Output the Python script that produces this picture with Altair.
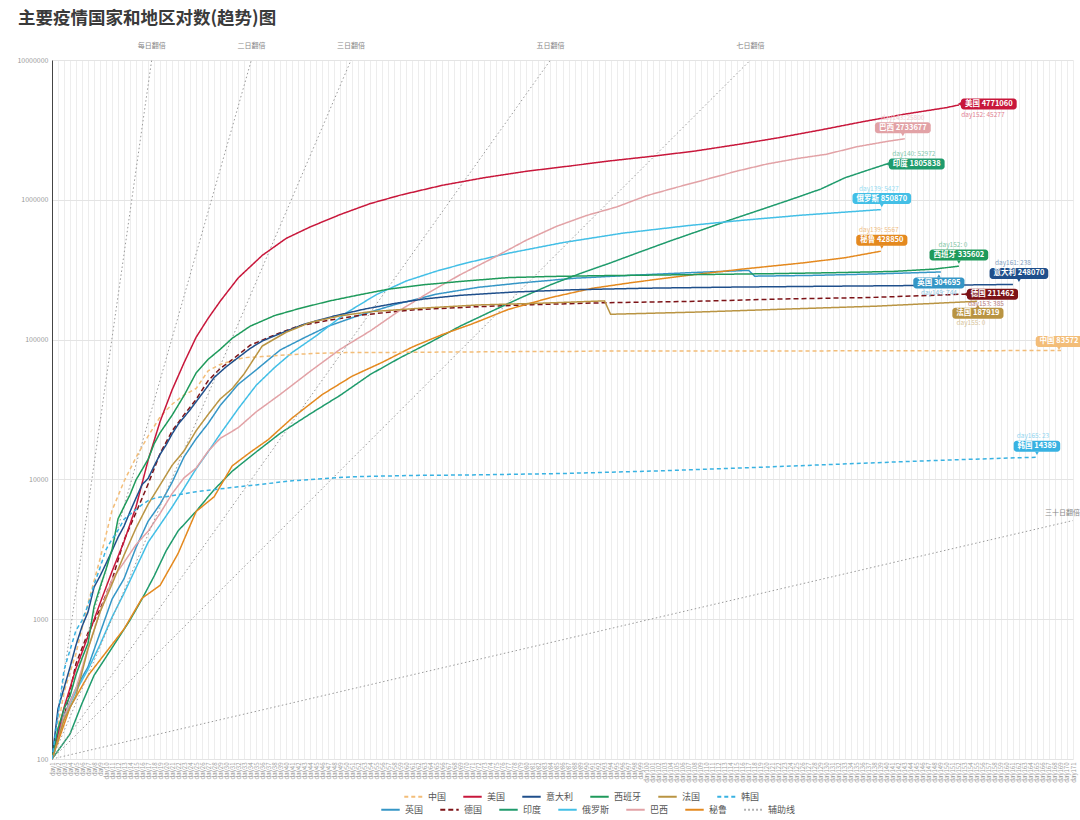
import altair as alt
import pandas as pd

FONT = "Noto Sans CJK SC"
TITLE = "主要疫情国家和地区对数(趋势)图"

# ---------------- series: day (since 100th case) and cumulative cases ----------------
cn_day = [1, 3, 5, 7, 9, 11, 13, 15, 17, 19, 21, 23, 25, 27, 29, 31, 33, 36, 40, 45, 50, 60, 70, 80, 88, 90, 100, 120, 140, 160, 169]
cn_val = [100, 300, 571, 1300, 2700, 6000, 9700, 14400, 20400, 28000, 34500, 40200, 44700, 59800, 66500, 70500, 74200, 75600, 77700, 79800, 80700, 81100, 81600, 82100, 82300, 82700, 82900, 83000, 83100, 83400, 83572]

us_day = [1, 3, 5, 7, 9, 11, 13, 15, 17, 19, 21, 23, 25, 27, 29, 32, 36, 40, 44, 49, 54, 59, 66, 73, 80, 87, 94, 101, 108, 115, 122, 129, 136, 143, 150, 152]
us_val = [100, 233, 445, 755, 1300, 2200, 3600, 6400, 13700, 26000, 43700, 68500, 104000, 142000, 188000, 276000, 400000, 530000, 640000, 785000, 940000, 1080000, 1270000, 1440000, 1600000, 1740000, 1900000, 2050000, 2230000, 2480000, 2780000, 3160000, 3620000, 4100000, 4570000, 4771060]

it_day = [1, 2, 3, 4, 5, 6, 7, 8, 9, 10, 11, 12, 13, 14, 15, 16, 17, 18, 19, 20, 21, 22, 24, 26, 28, 30, 32, 34, 36, 39, 43, 48, 53, 58, 63, 69, 78, 88, 100, 114, 130, 144, 161]
it_val = [100, 229, 322, 453, 655, 888, 1128, 1694, 2036, 2502, 3089, 3858, 4636, 5883, 7375, 9172, 10149, 12462, 15113, 17660, 21157, 24747, 31506, 41035, 53578, 63927, 74386, 86498, 97689, 110574, 128948, 147577, 165155, 181228, 195351, 207428, 219070, 227364, 233197, 237290, 240760, 243506, 248070]

es_day = [1, 2, 3, 4, 5, 6, 7, 8, 9, 10, 11, 12, 13, 14, 15, 16, 17, 18, 19, 21, 23, 25, 27, 29, 31, 34, 38, 42, 47, 52, 57, 63, 70, 77, 84, 92, 101, 111, 121, 131, 141, 148, 152]
es_val = [100, 165, 228, 282, 401, 525, 674, 1231, 1695, 2277, 3146, 5232, 6391, 7798, 9942, 11748, 13910, 17963, 21571, 28768, 39885, 57786, 72248, 85195, 102136, 124736, 148220, 166019, 188068, 208389, 229422, 247122, 262783, 277719, 282852, 286509, 289360, 292655, 296351, 300988, 307335, 319501, 335602]

fr_day = [1, 3, 5, 7, 9, 11, 13, 15, 17, 19, 21, 23, 25, 27, 29, 31, 33, 36, 40, 44, 49, 54, 62, 72, 82, 93, 94, 108, 124, 138, 155]
fr_val = [100, 191, 285, 613, 1126, 1784, 2876, 4499, 6633, 9134, 12612, 16018, 22302, 29155, 37575, 44550, 56989, 89953, 112950, 132591, 147969, 158303, 167346, 176970, 181826, 189220, 151753, 157220, 165719, 173304, 187919]

kr_day = [1, 2, 3, 4, 5, 6, 7, 8, 9, 10, 11, 12, 13, 14, 15, 16, 17, 18, 19, 20, 25, 30, 35, 41, 51, 61, 71, 86, 102, 117, 132, 147, 163, 165]
kr_val = [100, 204, 433, 602, 833, 977, 1261, 1766, 2337, 3150, 3736, 4335, 5186, 5621, 6088, 6593, 7041, 7314, 7478, 7513, 8162, 8652, 9137, 9786, 10450, 10674, 10765, 11018, 11503, 12121, 12850, 13612, 14336, 14389]

uk_day = [1, 3, 5, 7, 9, 11, 13, 15, 17, 19, 21, 23, 25, 27, 29, 32, 35, 39, 43, 47, 52, 58, 65, 72, 79, 88, 98, 108, 117, 118, 128, 138, 149]
uk_val = [100, 206, 321, 456, 798, 1391, 1950, 3269, 5018, 6650, 9529, 14543, 19522, 25150, 33718, 47806, 60733, 84279, 103093, 124743, 148377, 177454, 211364, 236711, 254195, 274762, 289140, 302138, 312654, 284276, 288133, 294792, 304695]

de_day = [1, 3, 5, 7, 9, 11, 13, 15, 17, 19, 21, 23, 25, 27, 29, 31, 34, 38, 42, 47, 53, 61, 71, 81, 93, 107, 123, 137, 153]
de_val = [100, 196, 482, 799, 1176, 1908, 3675, 5813, 9257, 15320, 22213, 29056, 37323, 50871, 62095, 71808, 91159, 107663, 124908, 137439, 150648, 163009, 171324, 177778, 183494, 187423, 195418, 199919, 211462]

in_day = [1, 4, 6, 8, 10, 12, 14, 16, 18, 20, 22, 25, 28, 31, 35, 39, 44, 49, 54, 59, 64, 69, 74, 79, 84, 89, 94, 99, 104, 109, 114, 119, 124, 129, 133, 137, 140]
in_val = [100, 151, 250, 396, 536, 727, 987, 1397, 2032, 3082, 4281, 5916, 8446, 11438, 15712, 21370, 29451, 39980, 56342, 74292, 95698, 125101, 158086, 198706, 246628, 297535, 354065, 425282, 508953, 604641, 719665, 849553, 1003832, 1192915, 1435453, 1638870, 1805838]

ru_day = [1, 3, 5, 7, 9, 11, 13, 15, 17, 19, 21, 23, 25, 27, 29, 32, 35, 38, 41, 45, 50, 55, 60, 65, 70, 77, 86, 96, 107, 116, 126, 139]
ru_val = [100, 199, 306, 438, 658, 1036, 1534, 2337, 3548, 4731, 6343, 8672, 11917, 15770, 21102, 32008, 47121, 62773, 80949, 106498, 155370, 209688, 262843, 308705, 353427, 414878, 493657, 576952, 654405, 713936, 777486, 850870]

br_day = [1, 3, 5, 7, 9, 11, 13, 15, 17, 19, 21, 23, 25, 27, 29, 32, 35, 39, 44, 49, 54, 59, 64, 69, 74, 80, 85, 90, 95, 100, 105, 110, 115, 120, 125, 130, 135, 140, 143]
br_val = [100, 200, 321, 621, 1128, 1924, 2554, 3417, 4256, 5717, 7910, 10278, 12056, 15927, 19638, 23430, 30425, 40581, 59324, 85380, 115455, 162699, 220291, 291579, 374898, 514849, 645771, 772416, 888271, 1070139, 1228114, 1402041, 1603055, 1800827, 1970909, 2118646, 2396434, 2613789, 2733677]

pe_day = [1, 4, 7, 10, 13, 16, 19, 22, 25, 28, 31, 34, 37, 41, 46, 51, 56, 61, 66, 71, 77, 84, 91, 98, 107, 116, 126, 133, 139]
pe_val = [100, 234, 395, 580, 852, 1414, 1746, 2954, 5897, 7519, 12491, 15628, 19250, 27517, 40459, 54817, 68822, 88541, 108769, 129751, 164476, 199696, 232992, 257447, 288477, 319646, 353590, 384797, 428850]

SERIES = {
    "中国": (cn_day, cn_val), "美国": (us_day, us_val), "意大利": (it_day, it_val),
    "西班牙": (es_day, es_val), "法国": (fr_day, fr_val), "韩国": (kr_day, kr_val),
    "英国": (uk_day, uk_val), "德国": (de_day, de_val), "印度": (in_day, in_val),
    "俄罗斯": (ru_day, ru_val), "巴西": (br_day, br_val), "秘鲁": (pe_day, pe_val),
}

ROW1 = ["中国", "美国", "意大利", "西班牙", "法国", "韩国"]
ROW2 = ["英国", "德国", "印度", "俄罗斯", "巴西", "秘鲁", "辅助线"]

# captions shown next to the end labels
CAPTION = {
    "美国": "day152: 45277", "巴西": "day143: 25800", "印度": "day140: 52972",
    "俄罗斯": "day139: 5427", "秘鲁": "day139: 5567", "西班牙": "day152: 0",
    "意大利": "day161: 238", "英国": "day149: 744", "德国": "day153: 385",
    "法国": "day155: 0", "韩国": "day165: 23", "中国": "",
}

# auxiliary doubling lines (start / end points)
aux_names = ["每日翻倍", "二日翻倍", "三日翻倍", "五日翻倍", "七日翻倍", "三十日翻倍"]
aux_start_day = [1, 1, 1, 1, 1, 1]
aux_start_val = [100, 100, 100, 100, 100, 100]
aux_end_day = [17.6, 34.2, 50.8, 84.0, 117.3, 171]
aux_end_val = [10000000, 10000000, 10000000, 10000000, 10000000, 5080]

X_TICKS = list(range(1, 172))
Y_TICKS = [100, 1000, 10000, 100000, 1000000, 10000000]

# ---------------- styles ----------------
COLOR = {
    "中国": "#f3bd78", "美国": "#c8173b", "意大利": "#1f4f8b", "西班牙": "#1e9a5b",
    "法国": "#b99442", "韩国": "#38b2e2", "英国": "#3596c6", "德国": "#7d1317",
    "印度": "#1f9b6c", "俄罗斯": "#43bfe6", "巴西": "#e2a2a6", "秘鲁": "#e4891f",
    "辅助线": "#9a9a9a",
}
SOLID = [1, 0]
DASH = {c: SOLID for c in COLOR}
DASH.update({"中国": [4, 3], "韩国": [4, 3], "德国": [5, 3], "辅助线": [1.5, 2.5]})

# label placement: box dx/dy (box centre from line end), pointer side, caption dx/dy
LBL = {
    "美国": (27, -1, "left", 24, 10),
    "巴西": (-2, -11, "down", -2, -21),
    "印度": (29, 0, "left", 27, -10),
    "俄罗斯": (1, -11, "down", -2, -21),
    "秘鲁": (1, -11, "down", -2, -21),
    "西班牙": (0, -11, "down", -6, -21),
    "意大利": (6, -11, "down", 0, -21),
    "英国": (-2, 11, "up", -2, 21),
    "德国": (25, 0, "left", 21, 10),
    "法国": (1, 12, "up", -6, 22),
    "中国": (-2, -9, "down", 0, -18),
    "韩国": (0, -11, "down", -4, -21),
}
LBL_FS = 7.5


def tint(h, f):
    r, g, b = int(h[1:3], 16), int(h[3:5], 16), int(h[5:7], 16)
    r, g, b = [int(round(c + (255 - c) * f)) for c in (r, g, b)]
    return "#%02x%02x%02x" % (r, g, b)


def box_width(name, num):
    return len(name) * LBL_FS + len(str(num)) * LBL_FS * 0.62 + LBL_FS * 0.3 + 6


# ---------------- data tables ----------------
rows_a, rows_b = [], []
for name in ROW1:
    d, v = SERIES[name]
    for a, b in zip(d, v):
        rows_a.append({"country": name, "series": name, "day": a, "cases": b, "sw": 1.5})
for name in ROW2[:-1]:
    d, v = SERIES[name]
    for a, b in zip(d, v):
        rows_b.append({"country": name, "series": name, "day": a, "cases": b, "sw": 1.5})
for n, sd, sv, ed, ev in zip(aux_names, aux_start_day, aux_start_val, aux_end_day, aux_end_val):
    rows_b.append({"country": "辅助线", "series": n, "day": sd, "cases": sv, "sw": 1})
    rows_b.append({"country": "辅助线", "series": n, "day": ed, "cases": ev, "sw": 1})
dfA = pd.DataFrame(rows_a)
dfB = pd.DataFrame(rows_b)

xscale = alt.Scale(domain=[1, 171], nice=False, zero=False)
yscale = alt.Scale(type="log", domain=[100, 10000000], nice=False)
xaxis = alt.Axis(values=X_TICKS, labelExpr="'day' + datum.value", labelAngle=-90,
                 labelFontSize=6, labelColor="#9a9a9a", labelOverlap=False, labelBound=False,
                 labelPadding=3, ticks=False, grid=True, gridColor="#ededed", gridWidth=1,
                 domain=False, title=None)
yaxis = alt.Axis(values=Y_TICKS, format="d", labelFontSize=7, labelColor="#9a9a9a",
                 ticks=False, grid=True, gridColor="#e4e4e4", domainColor="#444",
                 labelPadding=4, title=None)


def X(field="day"):
    return alt.X(f"{field}:Q", scale=xscale, axis=xaxis)


def Y(field="cases"):
    return alt.Y(f"{field}:Q", scale=yscale, axis=yaxis)


legend_common = dict(orient="none", direction="horizontal", title=None, symbolType="stroke",
                     symbolSize=340, symbolStrokeWidth=1.8, labelFontSize=9, labelColor="#555",
                     labelFont=FONT, columnPadding=12, labelOffset=4, padding=0)
lgA = alt.Legend(legendX=351, legendY=726, **legend_common)
lgB = alt.Legend(legendX=328, legendY=739, **legend_common)

lineB = alt.Chart(dfB).mark_line(clip=True).encode(
    x=X(), y=Y(),
    stroke=alt.Stroke("country:N", scale=alt.Scale(domain=ROW2, range=[COLOR[c] for c in ROW2]), legend=lgB),
    strokeDash=alt.StrokeDash("country:N", scale=alt.Scale(domain=ROW2, range=[DASH[c] for c in ROW2]), legend=lgB),
    strokeWidth=alt.StrokeWidth("sw:Q", scale=None, legend=None),
    detail="series:N",
    order="day:Q",
)
lineA = alt.Chart(dfA).mark_line(clip=True).encode(
    x=X(), y=Y(),
    color=alt.Color("country:N", scale=alt.Scale(domain=ROW1, range=[COLOR[c] for c in ROW1]), legend=lgA),
    strokeDash=alt.StrokeDash("country:N", scale=alt.Scale(domain=ROW1, range=[DASH[c] for c in ROW1]), legend=lgA),
    strokeWidth=alt.StrokeWidth("sw:Q", scale=None, legend=None),
    order="day:Q",
)

# auxiliary line labels
aux_df = pd.DataFrame({"name": aux_names, "day": aux_end_day, "cases": aux_end_val})
aux_top = alt.Chart(aux_df.iloc[:5]).mark_text(fontSize=7, color="#888", dy=-14, font=FONT).encode(
    x=X(), y=Y(), text="name:N")
aux_right = alt.Chart(aux_df.iloc[5:]).mark_text(fontSize=7, color="#888", dx=7, dy=-8, align="right", font=FONT).encode(
    x=X(), y=Y(), text="name:N")

# end labels
label_layers = []
for name, (d, v) in SERIES.items():
    dx, dy, ptr, cdx, cdy = LBL[name]
    w = box_width(name, v[-1])
    col = COLOR[name]
    if ptr == "left":
        dx = w / 2 + 2
    one = pd.DataFrame({"day": [d[-1]], "cases": [v[-1]], "day2": [d[-1]], "cases2": [v[-1]],
                        "lbl": [f"{name} {v[-1]}"], "cap": [CAPTION[name]]})
    base = alt.Chart(one)
    box = base.mark_rect(color=col, cornerRadius=3,
                         xOffset=dx - w / 2, x2Offset=dx + w / 2,
                         yOffset=dy - 5.5, y2Offset=dy + 5.5).encode(
        x=X(), x2="day2:Q", y=Y(), y2="cases2:Q")
    if ptr == "down":
        p = base.mark_point(shape="triangle-down", filled=True, size=14, color=col, opacity=1,
                            xOffset=dx, yOffset=dy + 7)
    elif ptr == "up":
        p = base.mark_point(shape="triangle-up", filled=True, size=14, color=col, opacity=1,
                            xOffset=dx, yOffset=dy - 7)
    else:
        p = base.mark_point(shape="triangle-left", filled=True, size=14, color=col, opacity=1,
                            xOffset=dx - w / 2 - 1.5, yOffset=dy)
    p = p.encode(x=X(), y=Y())
    txt = base.mark_text(color="white", fontSize=LBL_FS, fontWeight="bold", font=FONT,
                         dx=dx, dy=dy, baseline="middle").encode(x=X(), y=Y(), text="lbl:N")
    layers = [box, p, txt]
    if CAPTION[name]:
        cap = base.mark_text(color=tint(col, 0.45), fontSize=6.5, font=FONT,
                             dx=cdx, dy=cdy, baseline="middle").encode(x=X(), y=Y(), text="cap:N")
        layers.append(cap)
    label_layers.extend(layers)

chart = alt.layer(lineB, lineA, aux_top, aux_right, *label_layers).resolve_scale(
    color="independent", stroke="independent", strokeDash="independent"
).properties(
    width=1021, height=699,
    padding={"left": 52, "top": 60, "right": 7, "bottom": 61},
    autosize=alt.AutoSizeParams(type="none"),
    title=alt.TitleParams(TITLE, anchor="start", fontSize=17.5, fontWeight="bold", color="#3a3a3a",
                          font=FONT, dx=-34, offset=15, frame="group"),
    background="white",
).configure(font=FONT).configure_view(stroke=None)

chart.save("out.html", embed_options={"renderer": "svg", "actions": False})
